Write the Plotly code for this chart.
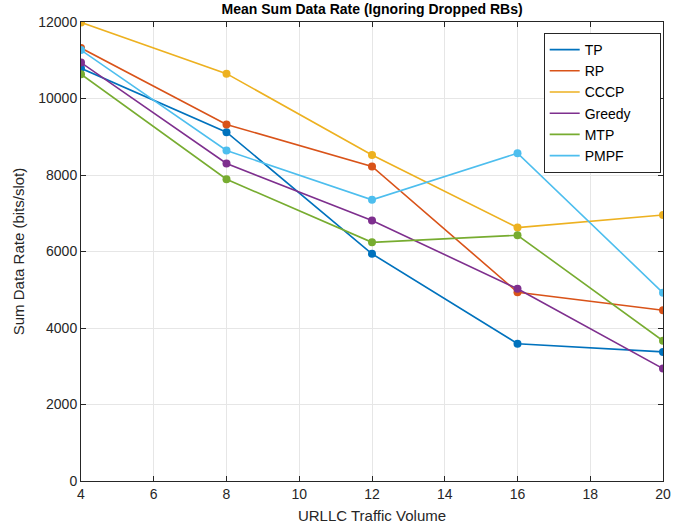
import plotly.graph_objects as go

x_vals = [4, 8, 12, 16, 20]
tp = [10790, 9120, 5940, 3590, 3375]
rp = [11320, 9320, 8225, 4935, 4465]
cccp = [11990, 10650, 8525, 6625, 6955]
greedy = [10940, 8300, 6810, 5025, 2940]
mtp = [10635, 7890, 6240, 6425, 3665]
pmpf = [11265, 8640, 7350, 8570, 4920]

names = ["TP", "RP", "CCCP", "Greedy", "MTP", "PMPF"]
series = [tp, rp, cccp, greedy, mtp, pmpf]
colors = ["#0072BD", "#D95319", "#EDB120", "#7E2F8E", "#77AC30", "#4DBEEE"]

y_ticks = [0, 2000, 4000, 6000, 8000, 10000, 12000]
x_ticks = [4, 6, 8, 10, 12, 14, 16, 18, 20]

fig = go.Figure()
for n, s, c in zip(names, series, colors):
    fig.add_trace(go.Scatter(x=x_vals, y=s, mode="lines+markers", name=n,
                             line=dict(color=c, width=1.6),
                             marker=dict(color=c, size=8), showlegend=False))
pad = "\u00a0" * 6
for n, c in zip(names, colors):
    fig.add_trace(go.Scatter(x=[None], y=[None], mode="lines", name=n + pad,
                             line=dict(color=c, width=1.6)))

font_family = "Liberation Sans, Arial"
axis_common = dict(showline=True, linecolor="#262626", linewidth=1, mirror="ticks",
                   ticks="inside", ticklen=5, tickcolor="#262626", automargin=False,
                   showgrid=True, gridcolor="#E6E6E6", gridwidth=1, zeroline=False,
                   tickfont=dict(family=font_family, size=14, color="#262626"))

fig.update_layout(
    width=679, height=529,
    margin=dict(l=81, r=16, t=22, b=48, autoexpand=False),
    paper_bgcolor="white", plot_bgcolor="white",
    title=dict(text="<b>Mean Sum Data Rate (Ignoring Dropped RBs)</b>", x=0.548, xanchor="center",
               y=0.982, yanchor="middle",
               font=dict(family=font_family, size=14, color="black")),
    xaxis=dict(range=[4, 20], tickvals=x_ticks, ticktext=[str(v) for v in x_ticks],
               title=dict(text="URLLC Traffic Volume", standoff=9,
                          font=dict(family=font_family, size=15, color="#262626")),
               **axis_common),
    yaxis=dict(range=[0, 12000], tickvals=y_ticks, ticktext=[str(v) for v in y_ticks],
               title=dict(text="Sum Data Rate (bits/slot)", standoff=10,
                          font=dict(family=font_family, size=15, color="#262626")),
               **axis_common),
    legend=dict(x=0.795, y=0.976, xanchor="left", yanchor="top",
                bgcolor="white", bordercolor="#262626", borderwidth=1,
                font=dict(family=font_family, size=14, color="black"),
                tracegroupgap=0),
    showlegend=True,
)

fig.write_html("out.html")
